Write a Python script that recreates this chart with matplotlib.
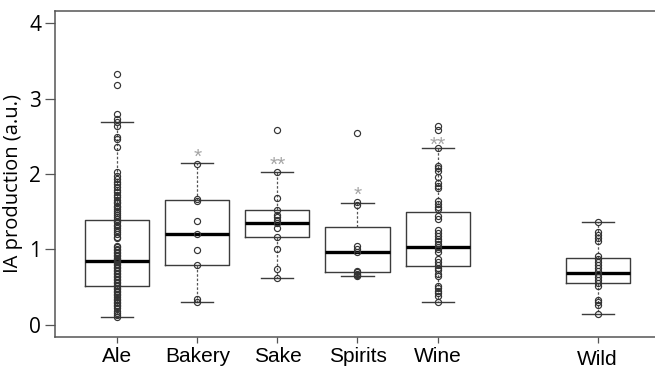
import numpy as np
import matplotlib.pyplot as plt
import matplotlib.transforms as mtransforms

# groups and their positions on the x axis (gap before Wild)
groups = ['Ale', 'Bakery', 'Sake', 'Spirits', 'Wine', 'Wild']
positions = [1, 2, 3, 4, 5, 7]

# box summaries: lower whisker, Q1, median, Q3, upper whisker
whislo = [0.11, 0.30, 0.62, 0.65, 0.30, 0.15]
q1 = [0.52, 0.79, 1.16, 0.70, 0.78, 0.56]
med = [0.85, 1.21, 1.35, 0.96, 1.03, 0.69]
q3 = [1.39, 1.65, 1.52, 1.30, 1.49, 0.89]
whishi = [2.69, 2.14, 2.02, 1.62, 2.35, 1.36]

# individual strains
ale = [3.33, 3.18, 2.79, 2.73, 2.69, 2.63, 2.49, 2.47, 2.36,
       2.02, 1.98, 1.93, 1.90, 1.87, 1.83, 1.79, 1.76, 1.72, 1.69, 1.66,
       1.63, 1.61, 1.58, 1.56, 1.53, 1.51, 1.48, 1.46, 1.43, 1.41, 1.38,
       1.36, 1.33, 1.31, 1.28, 1.26, 1.23, 1.20, 1.17, 1.15,
       1.05, 1.03, 1.01, 0.99, 0.97, 0.95, 0.93, 0.91, 0.89, 0.87, 0.86,
       0.85, 0.84, 0.83, 0.81, 0.79, 0.77, 0.75, 0.73, 0.71, 0.69, 0.67,
       0.65, 0.63, 0.61, 0.59, 0.57, 0.55, 0.53, 0.51, 0.49, 0.47, 0.45,
       0.43, 0.41, 0.39, 0.37, 0.35, 0.33, 0.31, 0.29, 0.27, 0.25, 0.22,
       0.19, 0.16, 0.13, 0.11]
bakery = [2.13, 1.67, 1.64, 1.38, 1.21, 0.99, 0.79, 0.34, 0.30]
sake = [2.58, 2.02, 1.68, 1.52, 1.46, 1.43, 1.39, 1.35, 1.29, 1.16, 1.01, 0.74, 0.62]
spirits = [2.54, 1.63, 1.59, 1.04, 1.00, 0.97, 0.72, 0.70, 0.68, 0.66, 0.65]
wine = [2.64, 2.58, 2.35, 2.11, 2.08, 2.04, 1.96, 1.88, 1.84, 1.81, 1.64, 1.60,
        1.56, 1.53, 1.44, 1.41, 1.26, 1.22, 1.18, 1.14, 1.11, 1.07, 1.03, 1.00,
        0.96, 0.88, 0.84, 0.80, 0.76, 0.73, 0.68, 0.65, 0.52, 0.49, 0.45, 0.42,
        0.38, 0.30]
wild = [1.36, 1.23, 1.19, 1.15, 1.11, 0.91, 0.88, 0.84, 0.80, 0.76, 0.71, 0.68,
        0.64, 0.60, 0.56, 0.52, 0.33, 0.30, 0.26, 0.15]
points = [ale, bakery, sake, spirits, wine, wild]

# significance marks vs Wild
stars = ['', '*', '**', '*', '**', '']
star_y = [0, 2.30, 2.19, 1.79, 2.46, 0]

fig = plt.figure(figsize=(6.55, 3.68), dpi=100)
ax = fig.add_axes([55 / 655, 31 / 368, 605 / 655, 326 / 368])

stats = []
for i in range(len(groups)):
    stats.append({'whislo': whislo[i], 'q1': q1[i], 'med': med[i],
                  'q3': q3[i], 'whishi': whishi[i], 'fliers': []})

edge = '#3c3c3c'
ax.bxp(stats, positions=positions, widths=0.8, capwidths=0.4,
       showfliers=False,
       boxprops=dict(color=edge, lw=1.0),
       whiskerprops=dict(color='#555555', lw=0.9, linestyle=(0, (2, 1.5))),
       capprops=dict(color=edge, lw=1.0),
       medianprops=dict(color='black', lw=2.4, solid_capstyle='butt'))

for x, vals in zip(positions, points):
    ax.plot([x] * len(vals), vals, 'o', ms=4.4, mfc='none', mec='#333333',
            mew=0.85, zorder=4)

# asterisk glyph sits high above the baseline, so drop the baseline
star_shift = mtransforms.offset_copy(ax.transData, fig=fig, x=0, y=-8,
                                     units='points')
for x, s, y in zip(positions, stars, star_y):
    if s:
        ax.text(x, y, s, ha='center', va='baseline', fontsize=15,
                color='#a5a5a5', family='Liberation Sans',
                transform=star_shift)

ax.set_xlim(0.22, 7.78)
ax.set_ylim(-0.16, 4.16)
ax.set_yticks([0, 1, 2, 3, 4])
ax.set_xticks(positions)
ax.set_xticklabels([])
for x, g in zip(positions, groups):
    dy = -9.5 if g == 'Wild' else -7
    lab_tr = mtransforms.offset_copy(ax.get_xaxis_transform(), fig=fig,
                                     x=0, y=dy, units='points')
    ax.text(x, 0, g, ha='center', va='top', fontsize=15,
            family='Liberation Sans', transform=lab_tr, clip_on=False)

for sp in ax.spines.values():
    sp.set_color('#555555')
    sp.set_linewidth(1.1)
ax.tick_params(axis='y', length=7, width=0.9, color='#555555',
               labelsize=15, pad=3)
ax.tick_params(axis='x', length=4, width=0.9, color='#555555')
for lab in ax.get_yticklabels():
    lab.set_family('Open Sans')
ax.set_ylabel('IA production (a.u.)', fontsize=14.5, family='Open Sans')
ax.yaxis.set_label_coords(-0.053, 0.47)

fig.savefig('out.png', dpi=100)
